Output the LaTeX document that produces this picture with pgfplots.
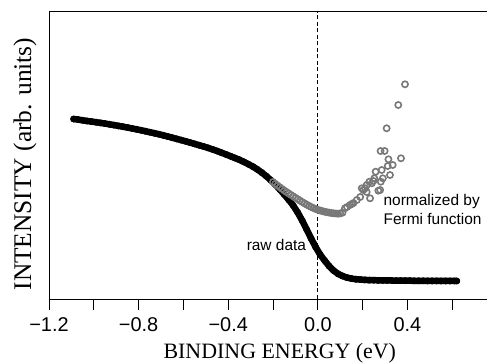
\documentclass[border=0pt]{standalone}
\usepackage{pgfplots}
\pgfplotsset{compat=1.18}
\usepackage{pgfplotstable}
\usepackage{fontspec}
\setmainfont{Liberation Serif}
\setsansfont{Liberation Sans}
\definecolor{normgray}{RGB}{120,120,120}

\pgfplotstableread{
E I
-1.09 180
-1.07 179.4
-1.05 178.7
-1.03 178.0
-1.01 177.4
-0.99 176.8
-0.97 176.1
-0.95 175.4
-0.93 174.7
-0.91 173.9
-0.89 173.1
-0.87 172.3
-0.85 171.5
-0.83 170.6
-0.81 169.7
-0.79 168.8
-0.77 167.8
-0.75 166.8
-0.73 165.8
-0.71 164.8
-0.69 163.7
-0.67 162.5
-0.65 161.3
-0.63 160.1
-0.61 158.9
-0.59 157.7
-0.57 156.4
-0.55 155.1
-0.53 153.8
-0.51 152.5
-0.49 151.1
-0.47 149.6
-0.45 148.0
-0.43 146.3
-0.41 144.6
-0.39 142.8
-0.37 141.0
-0.35 139.2
-0.33 137.1
-0.31 134.8
-0.29 132.4
-0.27 129.6
-0.25 126.4
-0.23 122.8
-0.21 118.8
-0.19 114.5
-0.17 109.6
-0.15 104.5
-0.13 99.2
-0.11 93.5
-0.09 86.5
-0.07 78.5
-0.05 69.5
-0.03 60.5
-0.01 52.0
0.01 44.5
0.03 38.5
0.05 33.0
0.07 28.5
0.09 25.2
0.11 23.0
0.13 21.4
0.15 20.4
0.17 19.8
0.19 19.4
0.21 19.1
0.23 18.9
0.25 18.8
0.27 18.7
0.29 18.6
0.31 18.5
0.33 18.5
0.35 18.4
0.37 18.4
0.39 18.3
0.41 18.3
0.43 18.2
0.45 18.2
0.47 18.2
0.49 18.1
0.51 18.1
0.53 18.1
0.55 18.0
0.57 18.0
0.59 18.0
0.61 18.0
0.62 18.0
}\rawdata

\pgfplotstableread{
E I
-0.20 117
-0.19 115.2
-0.18 113.4
-0.17 111.7
-0.16 110.1
-0.15 108.5
-0.14 107.0
-0.13 105.5
-0.12 104.1
-0.11 102.6
-0.10 101.2
-0.09 99.8
-0.08 98.4
-0.07 97.0
-0.06 95.7
-0.05 94.4
-0.04 93.2
-0.03 92.0
-0.02 91.0
-0.01 90.0
0.00 89.2
0.01 88.5
0.02 87.9
0.03 87.3
0.04 86.8
0.05 86.4
0.06 86.0
0.07 85.7
0.08 85.5
0.09 85.3
0.10 85.6
0.11 86.3
0.121 90.7
0.13 92
0.144 94
0.151 95
0.159 96
0.174 99
0.189 102
0.196 110.7
0.203 109
0.211 110.7
0.218 114
0.218 107
0.230 117.3
0.233 100.7
0.241 115.7
0.248 118
0.252 120.7
0.258 127.3
0.270 108.3
0.278 109
0.281 117.3
0.285 129
0.290 120.7
0.312 133
0.322 124
0.334 134
0.315 139.7
0.371 140.7
0.280 148
0.298 148
0.307 170.7
0.359 194
0.389 214.7
}\normdata

\begin{document}
\begin{tikzpicture}
\begin{axis}[
  scale only axis,
  width=438bp, height=287bp,
  xmin=-1.2, xmax=0.755,
  ymin=0, ymax=287,
  axis x line*=bottom,
  axis y line*=left,
  axis line style={line width=1bp, -},
  xtick={-1.2,-1.0,-0.8,-0.6,-0.4,-0.2,0.0,0.2,0.4,0.6},
  xticklabels={−1.2,,−0.8,,−0.4,,0.0,,0.4,},
  ytick=\empty,
  tick align=outside,
  major tick length=11bp,
  every tick/.style={line width=1bp, black},
  xticklabel style={font=\fontsize{20}{24}\selectfont\sffamily, yshift=-4bp},
  xlabel={BINDING ENERGY (eV)},
  xlabel style={at={(axis description cs:0.527,0)}, anchor=base, yshift=-59.5bp, font=\fontsize{22}{26}\selectfont},
  ylabel={INTENSITY (arb. units)},
  ylabel style={at={(axis description cs:-0.055,0.47)}, anchor=center, font=\fontsize{25.5}{30}\selectfont},
  clip=false,
]
\draw[line width=1bp] (rel axis cs:0,1) -- (rel axis cs:1,1);
\draw[line width=0.8bp, dash pattern=on 4bp off 2.5bp] (axis cs:0,0) -- (axis cs:0,287);
\addplot[black, line width=6.5bp, line cap=round, line join=round, mark=*, mark size=3.2bp, mark options={line width=0.4bp}] table[x=E, y=I] {\rawdata};
\addplot[only marks, normgray, mark=o, mark size=3.1bp, mark options={line width=1.6bp}] table[x=E, y=I] {\normdata};
\node[anchor=base west, font=\fontsize{15.5}{18}\selectfont\sffamily] at (axis cs:-0.333,48.3) {raw data};
\node[anchor=base west, font=\fontsize{15.5}{18}\selectfont\sffamily] at (axis cs:0.278,93) {normalized by};
\node[anchor=base west, font=\fontsize{15.5}{18}\selectfont\sffamily] at (axis cs:0.278,74) {Fermi function};
\end{axis}
\pgfresetboundingbox
\path[use as bounding box] (-49bp,-65bp) rectangle (438bp,299bp);
\end{tikzpicture}
\end{document}
